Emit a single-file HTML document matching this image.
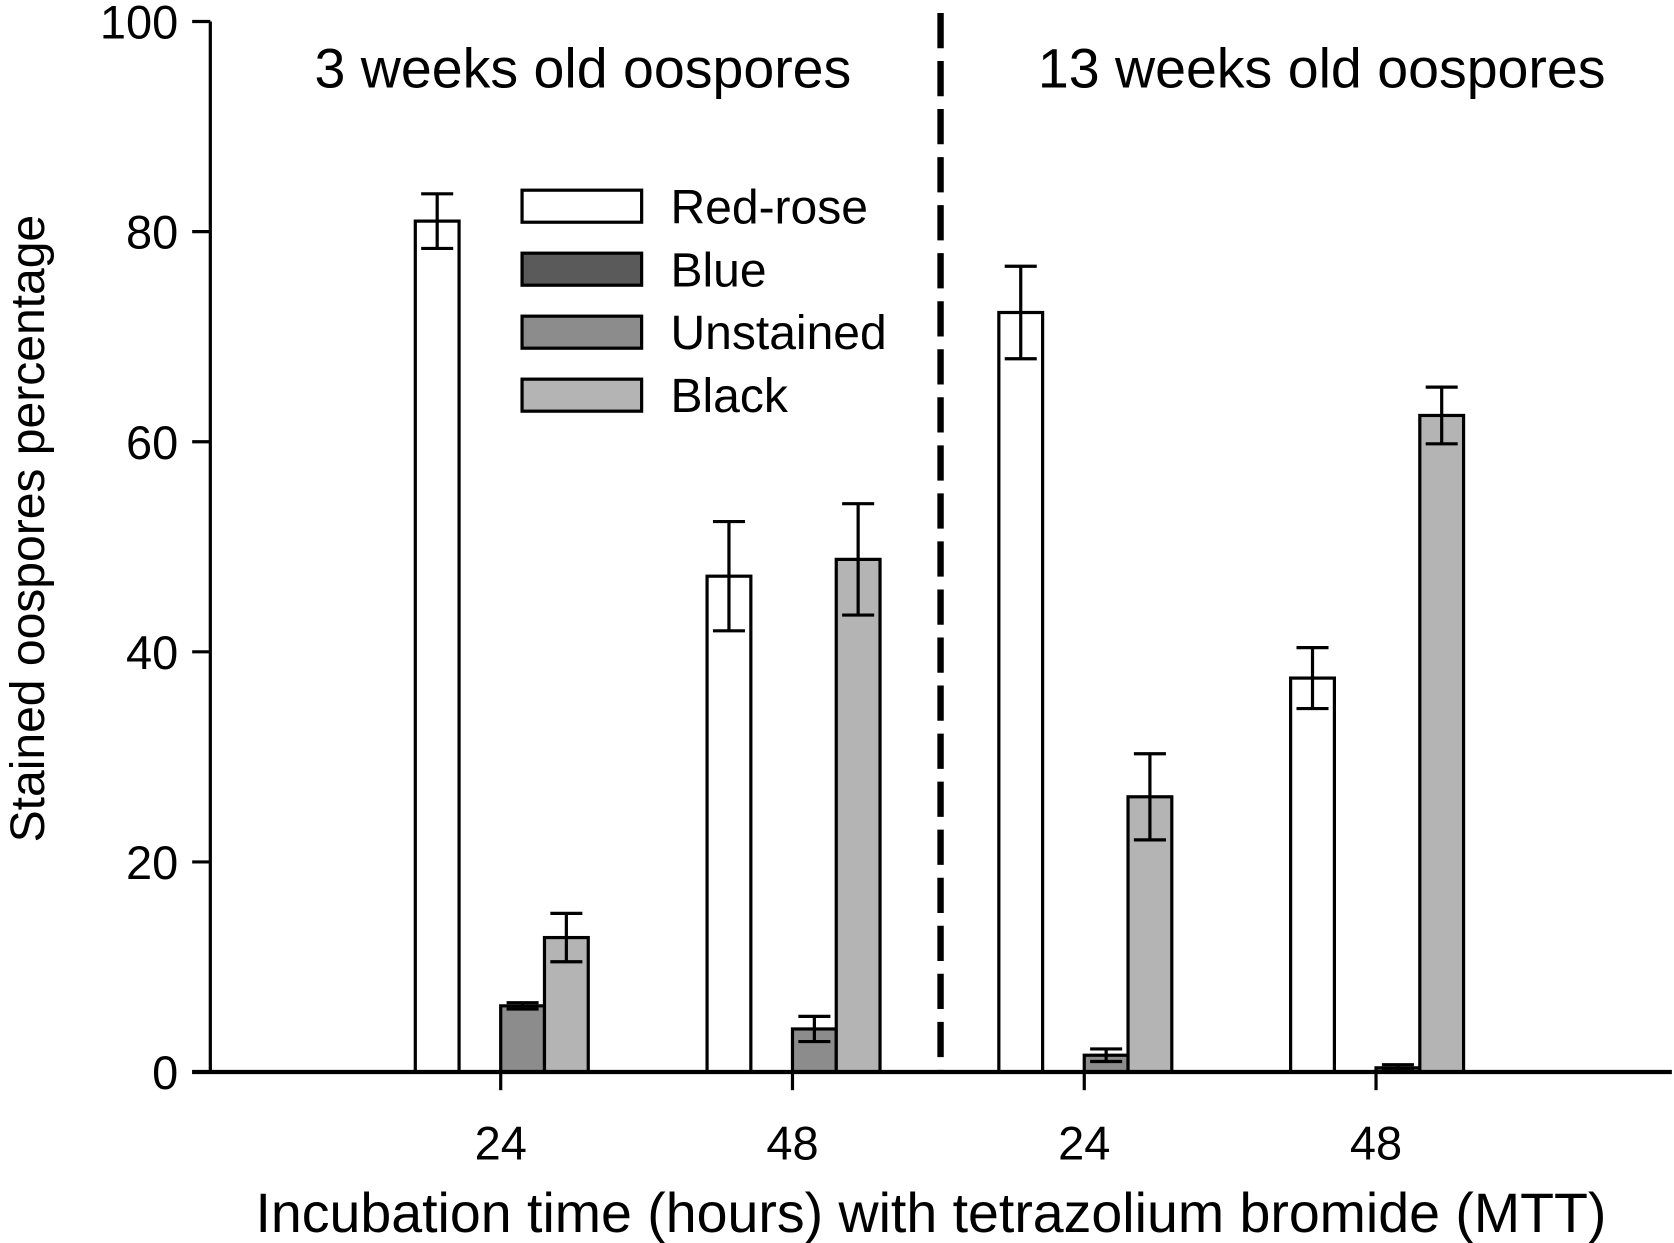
<!DOCTYPE html>
<html><head><meta charset="utf-8"><style>
html,body{margin:0;padding:0;background:#fff}
svg{display:block}
text{font-family:"Liberation Sans",Arial,sans-serif;fill:#000}
</style></head><body>
<svg id="chart" width="1674" height="1243" viewBox="0 0 1568 1164" xmlns="http://www.w3.org/2000/svg"></svg>
<script>
const groups = ["24","48","24","48"];
const redRose = [81, 47.2, 72.3, 37.5];
const redRoseErr = [2.6, 5.2, 4.4, 2.9];
const blue = [0, 0, 0, 0];
const blueErr = [0, 0, 0, 0];
const unstained = [6.3, 4.1, 1.6, 0.4];
const unstainedErr = [0.3, 1.2, 0.6, 0.3];
const black = [12.8, 48.8, 26.2, 62.5];
const blackErr = [2.3, 5.3, 4.1, 2.7];
const yTicks = [0, 20, 40, 60, 80, 100];
const seriesNames = ["Red-rose", "Blue", "Unstained", "Black"];

const NS = "http://www.w3.org/2000/svg";
const svg = document.getElementById("chart");
function el(tag, attrs, parent) {
  const e = document.createElementNS(NS, tag);
  for (const k in attrs) e.setAttribute(k, attrs[k]);
  (parent || svg).appendChild(e);
  return e;
}
const y = v => 1004 - 9.84 * v;
const xCenter = i => 469 + i * 273.3;
const barW = 41;
const series = [
  {vals: redRose, err: redRoseErr, fill: "#ffffff", off: -80},
  {vals: blue, err: blueErr, fill: "#5a5a5a", off: -39},
  {vals: unstained, err: unstainedErr, fill: "#8c8c8c", off: 0},
  {vals: black, err: blackErr, fill: "#b4b4b4", off: 41}
];

series.forEach((s, si) => {
  s.vals.forEach((v, i) => {
    if (v <= 0) return;
    const x0 = xCenter(i) + s.off;
    const b = el("rect", {x: x0, y: y(v), width: barW, height: y(0) - y(v), fill: s.fill, stroke: "#000", "stroke-width": 3});
    
    
    const cx = x0 + barW / 2, e = s.err[i];
    const g = el("g", {stroke: "#000", "stroke-width": 3});
    
    
    el("line", {x1: cx, x2: cx, y1: y(v + e), y2: y(Math.max(0, v - e))}, g);
    el("line", {x1: cx - 15, x2: cx + 15, y1: y(v + e), y2: y(v + e)}, g);
    el("line", {x1: cx - 15, x2: cx + 15, y1: y(Math.max(0, v - e)), y2: y(Math.max(0, v - e))}, g);
  });
});

const ax = el("g", {stroke: "#000", "stroke-width": 3});


el("line", {x1: 197, x2: 197, y1: y(100), y2: y(0)}, ax);
el("line", {x1: 180, x2: 1566, y1: y(0), y2: y(0), "stroke-width": 4}, ax);
yTicks.forEach(t => {
  el("line", {x1: 180, x2: 197, y1: y(t), y2: y(t)}, ax);
  const tl = el("text", {x: 167, y: y(t) + 16, "font-size": 44, "text-anchor": "end"});
  tl.textContent = t;
  
  
});
groups.forEach((g, i) => {
  el("line", {x1: xCenter(i), x2: xCenter(i), y1: y(0), y2: 1021}, ax);
  const tl = el("text", {x: xCenter(i), y: 1086, "font-size": 44, "text-anchor": "middle"});
  tl.textContent = g;
  
  
});
const dl = el("line", {x1: 881, x2: 881, y1: 12, y2: 1004, stroke: "#000", "stroke-width": 6, "stroke-dasharray": "33 12"});



const xt = el("text", {x: 872, y: 1154, "font-size": 52, "text-anchor": "middle"});
xt.textContent = "Incubation time (hours) with tetrazolium bromide (MTT)";


const yt = el("text", {x: 0, y: 0, "font-size": 45, "text-anchor": "middle", transform: "translate(41,495) rotate(-90)"});
yt.textContent = "Stained oospores percentage";


const g1 = el("text", {x: 546, y: 82, "font-size": 52, "text-anchor": "middle"});
g1.textContent = "3 weeks old oospores";


const g2 = el("text", {x: 1238, y: 82, "font-size": 52, "text-anchor": "middle"});
g2.textContent = "13 weeks old oospores";



series.forEach((s, i) => {
  const cy = 193 + i * 59;
  const lg = el("g", {});
  
  
  el("rect", {x: 489, y: cy - 15, width: 112, height: 30, fill: s.fill, stroke: "#000", "stroke-width": 3}, lg);
  const t = el("text", {x: 628, y: cy + 16, "font-size": 45}, lg);
  t.textContent = seriesNames[i];
});
</script>
</body></html>
